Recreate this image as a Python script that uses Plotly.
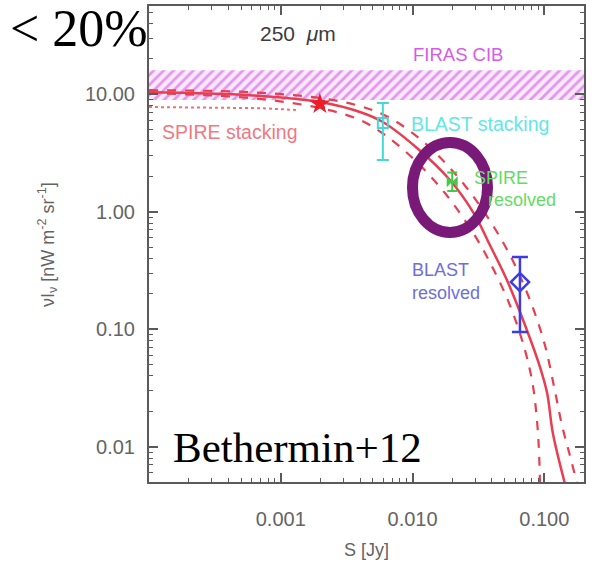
import plotly.graph_objects as go

# ---------------- data ----------------
# model curve (solid) : S [Jy], nuI_nu [nW m^-2 sr^-1]
model_S = [1.0e-4, 5.83e-4, 1.98e-3, 3.99e-3, 5.95e-3, 0.0108, 0.0192, 0.0297,
           0.0386, 0.052, 0.0738, 0.0927, 0.105, 0.116, 0.143]
model_I = [10.4, 9.8, 8.57, 7.05, 5.79, 3.48, 1.86, 0.936,
           0.52, 0.262, 0.098, 0.0476, 0.0286, 0.0131, 0.0049]

upper_S = [1.0e-4, 5.83e-4, 1.98e-3, 3.99e-3, 6.75e-3, 0.0124, 0.0221, 0.0354,
           0.0548, 0.0778, 0.101, 0.120, 0.136, 0.156, 0.177]
upper_I = [10.8, 10.4, 9.27, 7.92, 6.26, 3.84, 1.97, 0.973,
           0.428, 0.177, 0.0733, 0.0303, 0.0153, 0.0085, 0.0049]

lower_S = [1.0e-4, 5.83e-4, 1.98e-3, 3.99e-3, 6.18e-3, 0.0104, 0.0176, 0.0273,
           0.0386, 0.0548, 0.0713, 0.0818, 0.0879, 0.091, 0.0927]
lower_I = [10.2, 9.27, 7.62, 6.03, 4.49, 2.75, 1.44, 0.726,
           0.372, 0.160, 0.0664, 0.0334, 0.0169, 0.00936, 0.0049]

stack_low_S = [1.0e-4, 3.0e-4, 7.0e-4, 1.33e-3]
stack_low_I = [7.77, 7.72, 7.6, 7.33]

# FIRAS CIB band
firas_S = [5e-5, 0.5]
firas_lo = [8.9, 8.9]
firas_hi = [16.0, 16.0]

# measurements
spire_stack_S = [1.98e-3]; spire_stack_I = [8.24]; spire_stack_err = [0.5]
blast_stack_S = [5.95e-3]; blast_stack_I = [5.68]
blast_stack_up = [8.4 - 5.68]; blast_stack_dn = [5.68 - 2.75]
spire_res_S = [0.0200]; spire_res_I = [1.80]
spire_res_up = [0.35]; spire_res_dn = [0.3]
blast_res_S = [0.0653]; blast_res_I = [0.252]
blast_res_up = [0.411 - 0.252]; blast_res_dn = [0.252 - 0.0946]

x_tickvals = [0.001, 0.01, 0.1]
x_ticktext = ["0.001", "0.010", "0.100"]
y_tickvals = [0.01, 0.1, 1.0, 10.0]
y_ticktext = ["0.01", "0.10", "1.00", "10.00"]

# ---------------- figure ----------------
RED = "rgb(232,62,82)"
fig = go.Figure()

fig.add_trace(go.Scatter(x=firas_S, y=firas_lo, mode="lines",
                         line=dict(width=0), hoverinfo="skip", showlegend=False))
fig.add_trace(go.Scatter(x=firas_S, y=firas_hi, mode="lines", fill="tonexty",
                         line=dict(width=0), fillcolor="rgba(240,190,240,0.35)",
                         fillpattern=dict(shape="/", fgcolor="rgb(200,70,225)",
                                          bgcolor="rgba(245,200,245,0.4)",
                                          size=7, solidity=0.4),
                         hoverinfo="skip", showlegend=False))

fig.add_trace(go.Scatter(x=stack_low_S, y=stack_low_I, mode="lines",
                         line=dict(color="rgb(240,110,120)", width=2, dash="dot"),
                         showlegend=False))
fig.add_trace(go.Scatter(x=upper_S, y=upper_I, mode="lines",
                         line=dict(color=RED, width=2.2, dash="dash", shape="spline"),
                         showlegend=False))
fig.add_trace(go.Scatter(x=lower_S, y=lower_I, mode="lines",
                         line=dict(color=RED, width=2.2, dash="dash", shape="spline"),
                         showlegend=False))
fig.add_trace(go.Scatter(x=model_S, y=model_I, mode="lines",
                         line=dict(color=RED, width=2.5, shape="spline"),
                         showlegend=False))

# points
fig.add_trace(go.Scatter(x=spire_stack_S, y=spire_stack_I, mode="markers",
                         marker=dict(symbol="star", size=16, color="rgb(235,30,40)"),
                         error_y=dict(type="data", array=spire_stack_err,
                                      color="rgb(235,30,40)", thickness=2, width=5),
                         showlegend=False))
fig.add_trace(go.Scatter(x=blast_stack_S, y=blast_stack_I, mode="markers",
                         marker=dict(symbol="square-open", size=10,
                                     color="rgb(70,215,215)", line=dict(width=2)),
                         error_y=dict(type="data", symmetric=False, array=blast_stack_up,
                                      arrayminus=blast_stack_dn, color="rgb(70,215,215)",
                                      thickness=2, width=6),
                         showlegend=False))
fig.add_trace(go.Scatter(x=spire_res_S, y=spire_res_I, mode="markers",
                         marker=dict(symbol="bowtie", size=11, color="rgb(70,200,70)"),
                         error_y=dict(type="data", symmetric=False, array=spire_res_up,
                                      arrayminus=spire_res_dn, color="rgb(70,200,70)",
                                      thickness=2, width=5),
                         showlegend=False))
fig.add_trace(go.Scatter(x=blast_res_S, y=blast_res_I, mode="markers",
                         marker=dict(symbol="diamond-open", size=14,
                                     color="rgb(60,60,225)", line=dict(width=2.5)),
                         error_y=dict(type="data", symmetric=False, array=blast_res_up,
                                      arrayminus=blast_res_dn, color="rgb(60,60,225)",
                                      thickness=2.5, width=8),
                         showlegend=False))

AX = "rgb(90,90,90)"
minor_x = [m * 10.0 ** e for e in (-4, -3, -2, -1) for m in range(2, 10)]
minor_y = [m * 10.0 ** e for e in (-3, -2, -1, 0, 1) for m in range(2, 10)]

fig.update_xaxes(type="log", range=[-4.0, -0.699], showgrid=False, zeroline=False,
                 showline=True, linecolor=AX, linewidth=2, mirror="ticks",
                 ticks="inside", ticklen=9, tickwidth=1.5, tickcolor=AX,
                 tickvals=x_tickvals, ticktext=x_ticktext,
                 tickfont=dict(family="Liberation Sans, Arial", size=20, color="rgb(100,100,100)"),
                 ticklabelstandoff=18,
                 minor=dict(tickvals=minor_x, ticks="inside", ticklen=4,
                            tickcolor=AX, tickwidth=1.2))
fig.update_yaxes(type="log", range=[-2.30, 1.75], showgrid=False, zeroline=False,
                 showline=True, linecolor=AX, linewidth=2, mirror="ticks",
                 ticks="inside", ticklen=9, tickwidth=1.5, tickcolor=AX,
                 tickvals=y_tickvals, ticktext=y_ticktext,
                 tickfont=dict(family="Liberation Sans, Arial", size=20, color="rgb(100,100,100)"),
                 ticklabelstandoff=8,
                 minor=dict(tickvals=minor_y, ticks="inside", ticklen=4,
                            tickcolor=AX, tickwidth=1.2))

SANS = "Liberation Sans, Arial"
SERIF = "Liberation Serif, Times New Roman"
ann = []
def A(text, x, y, size, color, family=SANS, xanchor="center", align="center", angle=0):
    ann.append(dict(text=text, x=x, y=y, xref="paper", yref="paper", showarrow=False,
                    font=dict(family=family, size=size, color=color),
                    xanchor=xanchor, yanchor="middle", align=align, textangle=angle))

A("250&nbsp; <i>μ</i>m", 0.3425, 0.943, 21, "rgb(60,60,60)")
A("FIRAS CIB", 0.7103, 0.899, 18.5, "rgb(215,90,230)")
A("SPIRE stacking", 0.186, 0.735, 19.5, "rgb(240,120,130)")
A("BLAST stacking", 0.761, 0.752, 19.5, "rgb(100,230,230)")
A("SPIRE", 0.7425, 0.639, 18, "rgb(100,220,100)", xanchor="left", align="left")
A("resolved", 0.774, 0.593, 18, "rgb(100,220,100)", xanchor="left", align="left")
A("BLAST<br>resolved", 0.60, 0.421, 18, "rgb(110,110,220)", xanchor="left", align="left")
A("S [Jy]", 0.5, -0.143, 18, "rgb(100,100,100)")
A("νI<sub>ν</sub> [nW m<sup>-2</sup> sr<sup>-1</sup>]", -0.2345, 0.5, 18,
  "rgb(100,100,100)", angle=-90)
A("&lt; 20%", -0.3245, 0.953, 52, "black", family=SERIF, xanchor="left", align="left")
A("Bethermin+12", 0.0505, 0.0735, 43, "black", family=SERIF, xanchor="left", align="left")

fig.update_layout(
    width=593, height=569, margin=dict(l=149, r=9, t=6, b=87, autoexpand=False),
    paper_bgcolor="white", plot_bgcolor="white", annotations=ann,
    shapes=[dict(type="circle", xref="paper", yref="paper",
                 x0=0.6057, x1=0.7782, y0=0.5242, y1=0.7132,
                 line=dict(color="rgb(122,26,120)", width=11), layer="above")],
)

fig.write_html("out.html")
